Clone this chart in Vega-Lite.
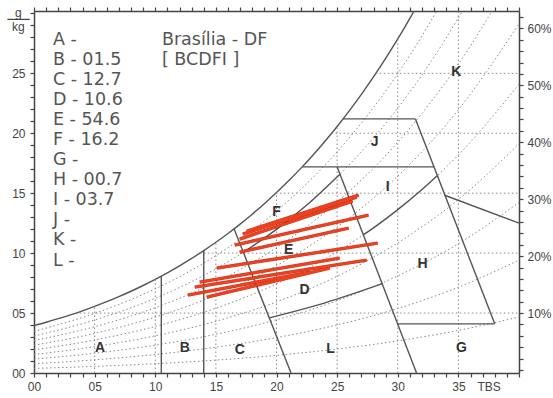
{
  "$schema": "https://vega.github.io/schema/vega-lite/v6.json",
  "width": 485,
  "height": 362,
  "autosize": {"type": "none"},
  "padding": {"left": 34, "top": 11, "right": 34, "bottom": 25},
  "background": "white",
  "config": {
    "view": {"stroke": null},
    "font": "Liberation Sans",
    "axis": {"domainColor": "#444", "domainWidth": 1.5, "tickColor": "#444", "tickWidth": 1.2, "labelColor": "#444", "labelFontSize": 12, "labelFont": "Liberation Sans", "grid": false, "title": null, "labelOverlap": false, "labelFlush": false, "tickSize": 4, "labelPadding": 4}
  },
  "datasets": {
    "sat": [
      {"T": 0, "w": 3.95}, {"T": 1, "w": 4.23}, {"T": 2, "w": 4.53}, {"T": 3, "w": 4.85}, {"T": 4, "w": 5.19},
      {"T": 5, "w": 5.56}, {"T": 6, "w": 5.95}, {"T": 7, "w": 6.37}, {"T": 8, "w": 6.82}, {"T": 9, "w": 7.3},
      {"T": 10, "w": 7.813}, {"T": 11, "w": 8.36}, {"T": 12, "w": 8.94}, {"T": 13, "w": 9.556}, {"T": 14, "w": 10.21},
      {"T": 15, "w": 10.904}, {"T": 16, "w": 11.64}, {"T": 17, "w": 12.419}, {"T": 18, "w": 13.25}, {"T": 19, "w": 14.122},
      {"T": 20, "w": 15.05}, {"T": 21, "w": 16.033}, {"T": 22, "w": 17.07}, {"T": 23, "w": 18.173}, {"T": 24, "w": 19.34},
      {"T": 25, "w": 20.569}, {"T": 26, "w": 21.87}, {"T": 27, "w": 23.249}, {"T": 28, "w": 24.7}, {"T": 29, "w": 26.243},
      {"T": 30, "w": 27.87}, {"T": 31, "w": 29.59}, {"T": 31.4, "w": 30.3}
    ],
    "rh": [
      {"rh": 10, "T": 0, "w": 0.384}, {"rh": 10, "T": 5, "w": 0.549}, {"rh": 10, "T": 10, "w": 0.773}, {"rh": 10, "T": 15, "w": 1.074}, {"rh": 10, "T": 20, "w": 1.473}, {"rh": 10, "T": 25, "w": 1.997}, {"rh": 10, "T": 30, "w": 2.679}, {"rh": 10, "T": 35, "w": 3.556}, {"rh": 10, "T": 40, "w": 4.672},
      {"rh": 20, "T": 0, "w": 0.769}, {"rh": 20, "T": 5, "w": 1.098}, {"rh": 20, "T": 10, "w": 1.547}, {"rh": 20, "T": 15, "w": 2.151}, {"rh": 20, "T": 20, "w": 2.953}, {"rh": 20, "T": 25, "w": 4.008}, {"rh": 20, "T": 30, "w": 5.381}, {"rh": 20, "T": 35, "w": 7.152}, {"rh": 20, "T": 40, "w": 9.416},
      {"rh": 30, "T": 0, "w": 1.155}, {"rh": 30, "T": 5, "w": 1.649}, {"rh": 30, "T": 10, "w": 2.323}, {"rh": 30, "T": 15, "w": 3.232}, {"rh": 30, "T": 20, "w": 4.44}, {"rh": 30, "T": 25, "w": 6.031}, {"rh": 30, "T": 30, "w": 8.106}, {"rh": 30, "T": 35, "w": 10.789}, {"rh": 30, "T": 40, "w": 14.231},
      {"rh": 40, "T": 0, "w": 1.54}, {"rh": 40, "T": 5, "w": 2.201}, {"rh": 40, "T": 10, "w": 3.101}, {"rh": 40, "T": 15, "w": 4.316}, {"rh": 40, "T": 20, "w": 5.934}, {"rh": 40, "T": 25, "w": 8.067}, {"rh": 40, "T": 30, "w": 10.856}, {"rh": 40, "T": 35, "w": 14.469}, {"rh": 40, "T": 40, "w": 19.121},
      {"rh": 50, "T": 0, "w": 1.926}, {"rh": 50, "T": 5, "w": 2.754}, {"rh": 50, "T": 10, "w": 3.882}, {"rh": 50, "T": 15, "w": 5.404}, {"rh": 50, "T": 20, "w": 7.435}, {"rh": 50, "T": 25, "w": 10.117}, {"rh": 50, "T": 30, "w": 13.629}, {"rh": 50, "T": 35, "w": 18.193}, {"rh": 50, "T": 40, "w": 24.086},
      {"rh": 60, "T": 0, "w": 2.313}, {"rh": 60, "T": 5, "w": 3.307}, {"rh": 60, "T": 10, "w": 4.664}, {"rh": 60, "T": 15, "w": 6.497}, {"rh": 60, "T": 20, "w": 8.944}, {"rh": 60, "T": 25, "w": 12.18}, {"rh": 60, "T": 30, "w": 16.427}, {"rh": 60, "T": 35, "w": 21.961}, {"rh": 60, "T": 40, "w": 29.129},
      {"rh": 70, "T": 0, "w": 2.7}, {"rh": 70, "T": 5, "w": 3.861}, {"rh": 70, "T": 10, "w": 5.448}, {"rh": 70, "T": 15, "w": 7.593}, {"rh": 70, "T": 20, "w": 10.459}, {"rh": 70, "T": 25, "w": 14.257}, {"rh": 70, "T": 30, "w": 19.25}, {"rh": 70, "T": 35, "w": 25.772}, {"rh": 70, "T": 36, "w": 27.29}, {"rh": 70, "T": 37, "w": 28.9}, {"rh": 70, "T": 38, "w": 30.59},
      {"rh": 80, "T": 0, "w": 3.088}, {"rh": 80, "T": 5, "w": 4.417}, {"rh": 80, "T": 10, "w": 6.235}, {"rh": 80, "T": 15, "w": 8.692}, {"rh": 80, "T": 20, "w": 11.982}, {"rh": 80, "T": 25, "w": 16.347}, {"rh": 80, "T": 30, "w": 22.098}, {"rh": 80, "T": 32, "w": 24.871}, {"rh": 80, "T": 34, "w": 27.957}, {"rh": 80, "T": 35, "w": 29.629}, {"rh": 80, "T": 36, "w": 31.39},
      {"rh": 90, "T": 0, "w": 3.476}, {"rh": 90, "T": 5, "w": 4.974}, {"rh": 90, "T": 10, "w": 7.023}, {"rh": 90, "T": 15, "w": 9.796}, {"rh": 90, "T": 20, "w": 13.511}, {"rh": 90, "T": 25, "w": 18.451}, {"rh": 90, "T": 30, "w": 24.97}, {"rh": 90, "T": 32, "w": 28.12}, {"rh": 90, "T": 33, "w": 29.83}, {"rh": 90, "T": 34, "w": 31.63}
    ],
    "vgrid": [
      {"T": 5, "w1": 0, "w2": 5.56}, {"T": 10, "w1": 0, "w2": 7.813}, {"T": 15, "w1": 0, "w2": 10.904},
      {"T": 20, "w1": 0, "w2": 15.05}, {"T": 25, "w1": 0, "w2": 20.569}, {"T": 30, "w1": 0, "w2": 27.87}, {"T": 35, "w1": 0, "w2": 30.2}
    ],
    "hgrid": [
      {"w": 5, "T1": 3.45, "T2": 40}, {"w": 10, "T1": 13.68, "T2": 40}, {"w": 15, "T1": 19.95, "T2": 40},
      {"w": 20, "T1": 24.54, "T2": 40}, {"w": 25, "T1": 28.19, "T2": 40}
    ],
    "zones": [
      {"seg": "v105", "o": 1, "T": 10.5, "w": 0}, {"seg": "v105", "o": 2, "T": 10.5, "w": 8.083},
      {"seg": "v14", "o": 1, "T": 14, "w": 0}, {"seg": "v14", "o": 2, "T": 14, "w": 10.21},
      {"seg": "ce", "o": 1, "T": 16.5, "w": 12.03}, {"seg": "ce", "o": 2, "T": 21.2, "w": 0},
      {"seg": "right", "o": 1, "T": 25.0, "w": 17.2}, {"seg": "right", "o": 2, "T": 31.55, "w": 0},
      {"seg": "ij", "o": 1, "T": 22.12, "w": 17.2}, {"seg": "ij", "o": 2, "T": 32.99, "w": 17.2},
      {"seg": "jtop", "o": 1, "T": 25.48, "w": 21.2}, {"seg": "jtop", "o": 2, "T": 31.46, "w": 21.2},
      {"seg": "jk", "o": 1, "T": 31.46, "w": 21.2}, {"seg": "jk", "o": 2, "T": 38.0, "w": 4.1},
      {"seg": "hb", "o": 1, "T": 29.99, "w": 4.1}, {"seg": "hb", "o": 2, "T": 38.0, "w": 4.1},
      {"seg": "hk", "o": 1, "T": 33.87, "w": 14.83}, {"seg": "hk", "o": 2, "T": 40, "w": 12.5},
      {"seg": "ih", "o": 1, "T": 27.17, "w": 11.54}, {"seg": "ih", "o": 2, "T": 28, "w": 12.11}, {"seg": "ih", "o": 3, "T": 30, "w": 13.63}, {"seg": "ih", "o": 4, "T": 32, "w": 15.31}, {"seg": "ih", "o": 5, "T": 33.25, "w": 16.46},
      {"seg": "ef", "o": 1, "T": 17.27, "w": 10.07}, {"seg": "ef", "o": 2, "T": 20, "w": 11.98}, {"seg": "ef", "o": 3, "T": 22.5, "w": 14.01}, {"seg": "ef", "o": 4, "T": 25.23, "w": 16.58},
      {"seg": "dl", "o": 1, "T": 19.41, "w": 4.6}, {"seg": "dl", "o": 2, "T": 24, "w": 5.85}, {"seg": "dl", "o": 3, "T": 28.74, "w": 7.45}
    ],
    "red": [
      {"id": 1, "T": 17.22, "w": 11.58}, {"id": 1, "T": 26.61, "w": 14.67},
      {"id": 2, "T": 16.97, "w": 11.17}, {"id": 2, "T": 26.28, "w": 14.33},
      {"id": 3, "T": 17.55, "w": 11.83}, {"id": 3, "T": 26.77, "w": 14.83},
      {"id": 4, "T": 16.56, "w": 10.67}, {"id": 4, "T": 27.59, "w": 13.17},
      {"id": 5, "T": 16.97, "w": 10.08}, {"id": 5, "T": 25.95, "w": 12.08},
      {"id": 6, "T": 15.07, "w": 8.75}, {"id": 6, "T": 28.34, "w": 10.83},
      {"id": 7, "T": 13.67, "w": 7.58}, {"id": 7, "T": 25.21, "w": 9.58},
      {"id": 8, "T": 13.26, "w": 7.17}, {"id": 8, "T": 27.43, "w": 9.42},
      {"id": 9, "T": 12.69, "w": 6.5}, {"id": 9, "T": 22.73, "w": 8.42},
      {"id": 10, "T": 14.25, "w": 6.33}, {"id": 10, "T": 24.38, "w": 8.75}
    ],
    "zlabels": [
      {"L": "A", "T": 5.44, "w": 2.08}, {"L": "B", "T": 12.44, "w": 2.08}, {"L": "C", "T": 16.97, "w": 1.92},
      {"L": "L", "T": 24.46, "w": 2.0}, {"L": "G", "T": 35.26, "w": 2.08}, {"L": "D", "T": 22.32, "w": 6.92},
      {"L": "E", "T": 21.0, "w": 10.25}, {"L": "F", "T": 20.0, "w": 13.4}, {"L": "H", "T": 32.04, "w": 9.08},
      {"L": "I", "T": 29.16, "w": 15.5}, {"L": "J", "T": 28.09, "w": 19.25}, {"L": "K", "T": 34.84, "w": 25.08}
    ],
    "legend": [
      {"txt": "A -", "T": 1.56, "w": 27.75}, {"txt": "B - 01.5", "T": 1.56, "w": 26.1}, {"txt": "C - 12.7", "T": 1.56, "w": 24.45},
      {"txt": "D - 10.6", "T": 1.56, "w": 22.8}, {"txt": "E - 54.6", "T": 1.56, "w": 21.1}, {"txt": "F - 16.2", "T": 1.56, "w": 19.45},
      {"txt": "G -", "T": 1.56, "w": 17.8}, {"txt": "H - 00.7", "T": 1.56, "w": 16.1}, {"txt": "I - 03.7", "T": 1.56, "w": 14.45},
      {"txt": "J -", "T": 1.56, "w": 12.8}, {"txt": "K -", "T": 1.56, "w": 11.1}, {"txt": "L -", "T": 1.56, "w": 9.35},
      {"txt": "Brasília - DF", "T": 10.55, "w": 27.75}, {"txt": "[ BCDFI ]", "T": 10.55, "w": 26.1}
    ],
    "unit": [
      {"txt": "g", "T": -1.3, "w": 30.05}, {"txt": "kg", "T": -1.3, "w": 28.85}
    ]
  },
  "layer": [
    {
      "data": {"name": "sat"},
      "mark": {"type": "line", "color": "#555", "strokeWidth": 1.4, "interpolate": "monotone", "clip": true},
      "encoding": {
        "x": {"field": "T", "type": "quantitative", "scale": {"domain": [0, 40], "nice": false, "zero": false},
          "axis": {"orient": "bottom", "values": [0,1,2,3,4,5,6,7,8,9,10,11,12,13,14,15,16,17,18,19,20,21,22,23,24,25,26,27,28,29,30,31,32,33,34,35,36,37,37.5,38,39,40],
            "labelExpr": "datum.value == 37.5 ? 'TBS' : (datum.value % 5 == 0 && datum.value < 40 ? (datum.value < 10 ? '0' + datum.value : '' + datum.value) : '')",
            "tickOpacity": {"condition": {"test": "datum.value == 37.5", "value": 0}, "value": 1}}},
        "y": {"field": "w", "type": "quantitative", "scale": {"domain": [0, 30.2], "nice": false, "zero": false},
          "axis": {"orient": "left", "values": [0,1,2,3,4,5,6,7,8,9,10,11,12,13,14,15,16,17,18,19,20,21,22,23,24,25,26,27,28,29,30],
            "labelExpr": "datum.value % 5 == 0 && datum.value < 30 ? (datum.value < 10 ? '0' + datum.value : '' + datum.value) : ''", "labelPadding": 5}}
      }
    },
    {
      "data": {"name": "rh"},
      "mark": {"type": "line", "color": "#888", "strokeWidth": 1, "strokeDash": [1.5, 2.5], "interpolate": "monotone", "clip": true},
      "encoding": {
        "x": {"field": "T", "type": "quantitative", "axis": null},
        "y": {"field": "w", "type": "quantitative", "axis": null},
        "detail": {"field": "rh", "type": "nominal"}
      }
    },
    {
      "data": {"name": "vgrid"},
      "mark": {"type": "rule", "color": "#888", "strokeWidth": 1, "strokeDash": [1.5, 2.5]},
      "encoding": {
        "x": {"field": "T", "type": "quantitative", "axis": null},
        "y": {"field": "w1", "type": "quantitative", "axis": null},
        "y2": {"field": "w2"}
      }
    },
    {
      "data": {"name": "hgrid"},
      "mark": {"type": "rule", "color": "#888", "strokeWidth": 1, "strokeDash": [1.5, 2.5]},
      "encoding": {
        "y": {"field": "w", "type": "quantitative", "axis": null},
        "x": {"field": "T1", "type": "quantitative", "axis": null},
        "x2": {"field": "T2"}
      }
    },
    {
      "data": {"name": "zones"},
      "mark": {"type": "line", "color": "#555", "strokeWidth": 1.4, "interpolate": "monotone"},
      "encoding": {
        "x": {"field": "T", "type": "quantitative", "axis": null},
        "y": {"field": "w", "type": "quantitative", "axis": null},
        "detail": {"field": "seg", "type": "nominal"},
        "order": {"field": "o", "type": "quantitative"}
      }
    },
    {
      "data": {"name": "red"},
      "mark": {"type": "line", "color": "#b5200e", "strokeWidth": 3.4, "opacity": 0.85},
      "encoding": {
        "x": {"field": "T", "type": "quantitative", "axis": null},
        "y": {"field": "w", "type": "quantitative", "axis": null},
        "detail": {"field": "id", "type": "nominal"}
      }
    },
    {
      "data": {"name": "red"},
      "mark": {"type": "line", "color": "#f2401c", "strokeWidth": 2.2},
      "encoding": {
        "x": {"field": "T", "type": "quantitative", "axis": null},
        "y": {"field": "w", "type": "quantitative", "axis": null},
        "detail": {"field": "id", "type": "nominal"}
      }
    },
    {
      "data": {"name": "zlabels"},
      "mark": {"type": "text", "fontSize": 14, "fontWeight": "bold", "color": "#333", "align": "center", "baseline": "middle"},
      "encoding": {
        "x": {"field": "T", "type": "quantitative", "axis": null},
        "y": {"field": "w", "type": "quantitative", "axis": null},
        "text": {"field": "L"}
      }
    },
    {
      "data": {"name": "legend"},
      "mark": {"type": "text", "font": "DejaVu Sans", "fontSize": 17.5, "color": "#555", "align": "left", "baseline": "middle"},
      "encoding": {
        "x": {"field": "T", "type": "quantitative", "axis": null},
        "y": {"field": "w", "type": "quantitative", "axis": null},
        "text": {"field": "txt"}
      }
    },
    {
      "data": {"name": "unit"},
      "mark": {"type": "text", "fontSize": 12, "color": "#444", "align": "center", "baseline": "middle"},
      "encoding": {
        "x": {"field": "T", "type": "quantitative", "axis": null},
        "y": {"field": "w", "type": "quantitative", "axis": null},
        "text": {"field": "txt"}
      }
    },
    {
      "data": {"values": [{"T1": -2.2, "T2": -0.35, "w": 29.5}]},
      "mark": {"type": "rule", "color": "#444", "strokeWidth": 1.2},
      "encoding": {
        "y": {"field": "w", "type": "quantitative", "axis": null},
        "x": {"field": "T1", "type": "quantitative", "axis": null},
        "x2": {"field": "T2"}
      }
    },
    {
      "data": {"values": [{"T": 0, "w": 0}]},
      "mark": {"type": "point", "opacity": 0},
      "encoding": {
        "x": {"field": "T", "type": "quantitative",
          "axis": {"orient": "top", "values": [0,1,2,3,4,5,6,7,8,9,10,11,12,13,14,15,16,17,18,19,20,21,22,23,24,25,26,27,28,29,30,31,32,33,34,35,36,37,38,39,40], "labels": false}},
        "y": {"field": "w", "type": "quantitative",
          "axis": {"orient": "right", "values": [0.25,1.2,2.15,3.1,4.05,5.0,5.95,6.9,7.85,8.8,9.75,10.7,11.65,12.6,13.55,14.5,15.45,16.4,17.35,18.3,19.25,20.2,21.15,22.1,23.05,24.0,24.95,25.9,26.85,27.8,28.75,29.7],
            "labelExpr": "(round((datum.value - 0.25) / 0.475) % 10 == 0 && datum.value > 1) ? round((datum.value - 0.25) / 0.475) + '%' : ''", "labelPadding": 4}}
      }
    }
  ],
  "resolve": {"axis": {"x": "independent", "y": "independent"}}
}
